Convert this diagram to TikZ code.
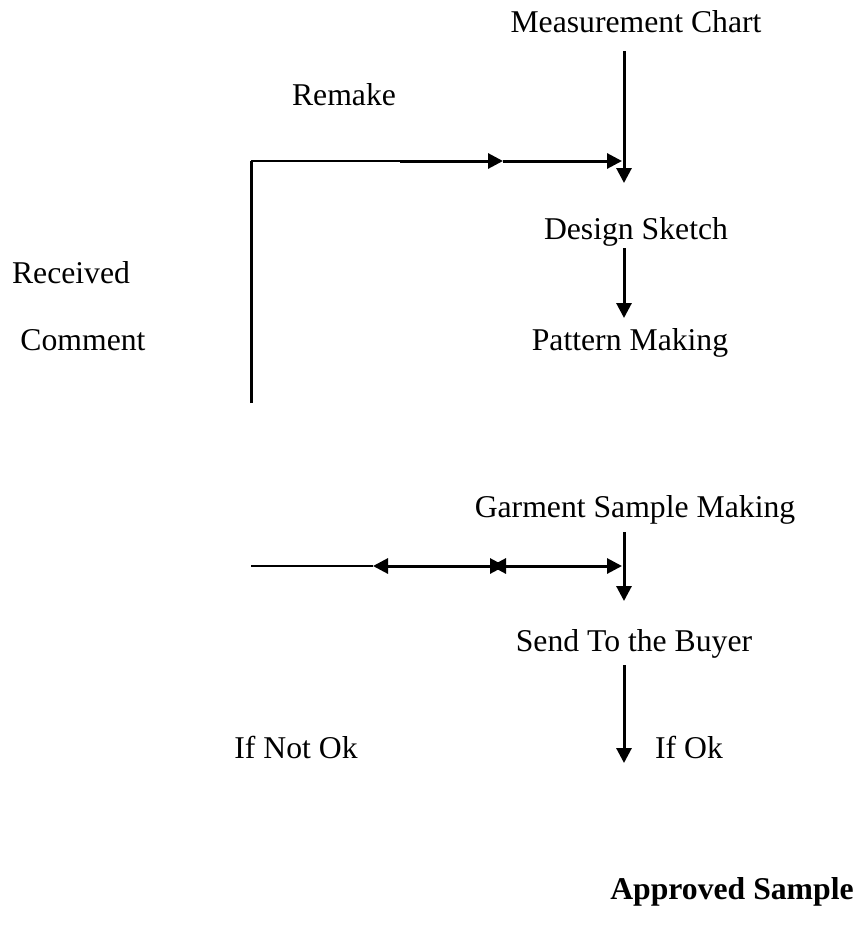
\documentclass[tikz,border=0pt]{standalone}
\usepackage{fontspec}
\setmainfont{Liberation Serif}
\usetikzlibrary{arrows.meta}
\newcommand{\labelfont}{\fontsize{15.85pt}{19pt}\selectfont}
\tikzset{
  lbl/.style={anchor=base, inner sep=0pt, outer sep=0pt, font=\labelfont},
  heavy/.style={line width=1.5pt},
  light/.style={line width=1pt},
  tri/.tip={Triangle[length=7.5pt,width=7.5pt]},
  flow/.style={heavy, -tri},
  twoway/.style={heavy, tri-tri},
}
\begin{document}
\begin{tikzpicture}[x=0.5pt, y=-0.5pt]
  \useasboundingbox (0,0) rectangle (860,932);

  % process steps
  \node[lbl] (mc)   at (636,32)  {Measurement Chart};
  \node[lbl] (ds)   at (636,239) {Design Sketch};
  \node[lbl] (pm)   at (630,350) {Pattern Making};
  \node[lbl] (gsm)  at (635,517) {Garment Sample Making};
  \node[lbl] (stb)  at (634,651) {Send To the Buyer};
  \node[lbl, font=\labelfont\bfseries] (ok) at (732,899) {Approved Sample};

  % side labels
  \node[lbl] (remake) at (344,105) {Remake};
  \node[lbl] (recv)   at (71,283)  {Received};
  \node[lbl] (comm)   at (83,350)  {Comment};
  \node[lbl] (ifnot)  at (296,758) {If Not Ok};
  \node[lbl] (ifok)   at (689,758) {If Ok};

  % connector end points
  \coordinate (mcOut)  at (624,51);
  \coordinate (dsIn)   at (624,183);
  \coordinate (dsOut)  at (624,248);
  \coordinate (pmIn)   at (624,318);
  \coordinate (gsmOut) at (624,532);
  \coordinate (stbIn)  at (624,601);
  \coordinate (stbOut) at (624,665);
  \coordinate (okIn)   at (624,763);

  % remake loop (top)
  \coordinate (loopLow)  at (251,403);
  \coordinate (loopCorn) at (251,161);
  \coordinate (loopMid)  at (400,161);
  \coordinate (loopTip)  at (503,161);
  \coordinate (loopEnd)  at (622,161);

  % comment return line (bottom)
  \coordinate (retStart) at (251,566);
  \coordinate (retA)     at (373,566);
  \coordinate (retB)     at (505,566);
  \coordinate (retC)     at (491,566);
  \coordinate (retEnd)   at (622,566);

  % main vertical flow
  \draw[flow] (mcOut) -- (dsIn);
  \draw[flow] (dsOut) -- (pmIn);
  \draw[flow] (gsmOut) -- (stbIn);
  \draw[flow] (stbOut) -- (okIn);

  % remake loop
  \draw[light] (loopCorn) -- (loopMid);
  \draw[heavy] (loopLow) -- (loopCorn);
  \draw[flow] (loopMid) -- (loopTip);
  \draw[flow] (loopTip) -- (loopEnd);

  % return line
  \draw[light] (retStart) -- (retA);
  \draw[twoway] (retA) -- (retB);
  \draw[twoway] (retC) -- (retEnd);
\end{tikzpicture}
\end{document}
